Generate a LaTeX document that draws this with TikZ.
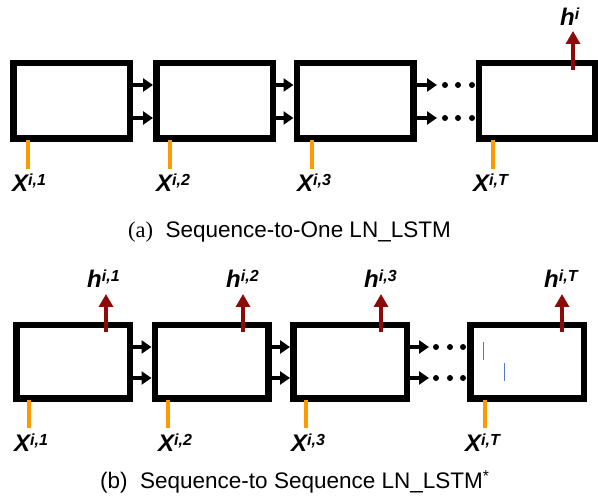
\documentclass[tikz,border=0pt]{standalone}
\usepackage{fontspec}
\setmainfont{Liberation Sans}
\newfontfamily\capserif{Liberation Serif}
\usetikzlibrary{arrows.meta}
\definecolor{boxblack}{RGB}{0,0,0}
\definecolor{inorange}{RGB}{255,153,0}
\definecolor{outred}{RGB}{140,10,10}
\definecolor{markblue}{RGB}{80,120,210}
\newcommand{\suplbl}[2]{#1\raisebox{6.5pt}{\fontsize{16}{16}\selectfont #2}}
\tikzset{
  cellbox/.style={draw=boxblack, line width=6.5pt, inner sep=0pt, minimum width=116.5pt, minimum height=75.5pt},
  cellboxb/.style={cellbox, minimum width=113.5pt, minimum height=73.5pt},
  conn/.style={line width=4pt, -{Triangle[length=10pt,width=13pt]}},
  outarr/.style={draw=outred, line width=3.8pt, -{Triangle[length=13pt,width=14pt]}},
  inp/.style={draw=inorange, line width=3.8pt},
  lbl/.style={inner sep=0pt, anchor=base west, font=\fontsize{24}{24}\selectfont\bfseries\itshape},
  capt/.style={inner sep=0pt, anchor=base west, font=\fontsize{22.5}{22.5}\selectfont},
  dotc/.style={fill=black, draw=none},
  markline/.style={draw=markblue, line width=1pt}
}
\begin{document}
\begin{tikzpicture}[x=1pt, y=-1pt]
\useasboundingbox (0,0) rectangle (598,502);
% ---------- (a) top row ----------
\node[cellbox] (a1) at (71.5,101) {};
\node[cellbox] (a2) at (214.5,101) {};
\node[cellbox] (a3) at (355,101) {};
\node[cellbox] (a4) at (537,101) {};
\draw[conn] ([yshift=16pt]a1.east) -- ([yshift=16pt]a2.west);
\draw[conn] ([yshift=-17pt]a1.east) -- ([yshift=-17pt]a2.west);
\draw[conn] ([yshift=16pt]a2.east) -- ([yshift=16pt]a3.west);
\draw[conn] ([yshift=-17pt]a2.east) -- ([yshift=-17pt]a3.west);
\coordinate (ta1) at (437,85);
\coordinate (ta2) at (437,118);
\draw[conn] ([yshift=16pt]a3.east) -- (ta1);
\draw[conn] ([yshift=-17pt]a3.east) -- (ta2);
\foreach \dx in {445,458,472}{
  \fill[dotc] (\dx,85) circle (3);
  \fill[dotc] (\dx,118) circle (3);
}
% inputs
\node[lbl] (xa1) at (12,192) {\suplbl{X}{i,1}};
\node[lbl] (xa2) at (156,192) {\suplbl{X}{i,2}};
\node[lbl] (xa3) at (297,192) {\suplbl{X}{i,3}};
\node[lbl] (xa4) at (473,192) {\suplbl{X}{i,T}};
\draw[inp] ([xshift=-43.5pt,yshift=1.5pt]a1.south) -- ++(0,29);
\draw[inp] ([xshift=-44.5pt,yshift=1.5pt]a2.south) -- ++(0,29);
\draw[inp] ([xshift=-43pt,yshift=1.5pt]a3.south) -- ++(0,29);
\draw[inp] ([xshift=-44pt,yshift=1.5pt]a4.south) -- ++(0,29);
% output
\node[lbl] (ha4) at (560,26) {\suplbl{h}{i}};
\draw[outarr] ([xshift=36pt,yshift=-10pt]a4.north) -- ([xshift=36pt,yshift=29pt]a4.north);
% caption a
\node[capt] (capa) at (128,238) {{\capserif (a)}\ \ Sequence-to-One LN\_LSTM};
% ---------- (b) bottom row ----------
\node[cellboxb] (b1) at (73,362) {};
\node[cellboxb] (b2) at (211.5,362) {};
\node[cellboxb] (b3) at (350,362) {};
\node[cellboxb] (b4) at (527,362) {};
\draw[conn] ([yshift=15pt]b1.east) -- ([yshift=15pt]b2.west);
\draw[conn] ([yshift=-16pt]b1.east) -- ([yshift=-16pt]b2.west);
\draw[conn] ([yshift=15pt]b2.east) -- ([yshift=15pt]b3.west);
\draw[conn] ([yshift=-16pt]b2.east) -- ([yshift=-16pt]b3.west);
\coordinate (tb1) at (429,347);
\coordinate (tb2) at (429,378);
\draw[conn] ([yshift=15pt]b3.east) -- (tb1);
\draw[conn] ([yshift=-16pt]b3.east) -- (tb2);
\foreach \dx in {436,450,463}{
  \fill[dotc] (\dx,347) circle (3);
  \fill[dotc] (\dx,378) circle (3);
}
% blue marks
\draw[markline] (483,342) -- (483,360);
\draw[markline] (504,363) -- (504,381);
% inputs
\node[lbl] (xb1) at (14,452) {\suplbl{X}{i,1}};
\node[lbl] (xb2) at (158,452) {\suplbl{X}{i,2}};
\node[lbl] (xb3) at (291,452) {\suplbl{X}{i,3}};
\node[lbl] (xb4) at (465,452) {\suplbl{X}{i,T}};
\draw[inp] ([xshift=-44pt,yshift=1.5pt]b1.south) -- ++(0,28);
\draw[inp] ([xshift=-43.5pt,yshift=1.5pt]b2.south) -- ++(0,28);
\draw[inp] ([xshift=-44pt,yshift=1.5pt]b3.south) -- ++(0,28);
\draw[inp] ([xshift=-42pt,yshift=1.5pt]b4.south) -- ++(0,28);
% outputs
\node[lbl] (hb1) at (87,288) {\suplbl{h}{i,1}};
\node[lbl] (hb2) at (226,288) {\suplbl{h}{i,2}};
\node[lbl] (hb3) at (364,288) {\suplbl{h}{i,3}};
\node[lbl] (hb4) at (544,288) {\suplbl{h}{i,T}};
\draw[outarr] ([xshift=33pt,yshift=-10pt]b1.north) -- ([xshift=33pt,yshift=28pt]b1.north);
\draw[outarr] ([xshift=31.5pt,yshift=-10pt]b2.north) -- ([xshift=31.5pt,yshift=28pt]b2.north);
\draw[outarr] ([xshift=31pt,yshift=-10pt]b3.north) -- ([xshift=31pt,yshift=28pt]b3.north);
\draw[outarr] ([xshift=35pt,yshift=-10pt]b4.north) -- ([xshift=35pt,yshift=28pt]b4.north);
% caption b
\node[capt] (capb) at (100,489) {(b)\ \ Sequence-to Sequence LN\_LSTM\textsuperscript{*}};
\end{tikzpicture}
\end{document}
